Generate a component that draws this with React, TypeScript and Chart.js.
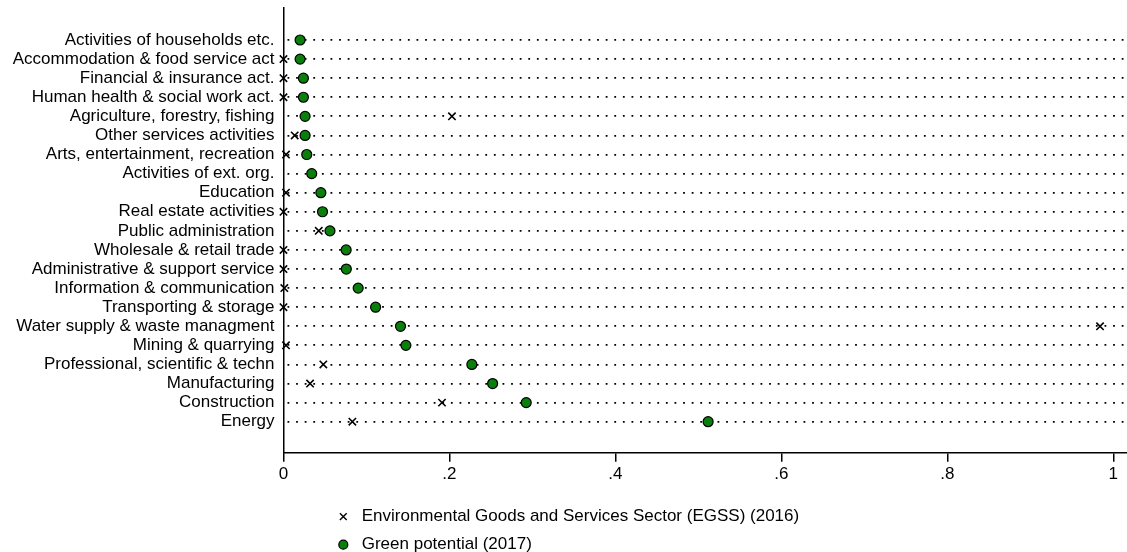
import React, { useEffect, useRef } from "react";
import { Chart, registerables } from "chart.js";

Chart.register(...registerables);

const categories: string[] = [
  "Activities of households etc.",
  "Accommodation & food service act",
  "Financial & insurance act.",
  "Human health & social work act.",
  "Agriculture, forestry, fishing",
  "Other services activities",
  "Arts, entertainment, recreation",
  "Activities of ext. org.",
  "Education",
  "Real estate activities",
  "Public administration",
  "Wholesale & retail trade",
  "Administrative & support service",
  "Information & communication",
  "Transporting & storage",
  "Water supply & waste managment",
  "Mining & quarrying",
  "Professional, scientific & techn",
  "Manufacturing",
  "Construction",
  "Energy",
];

const egss2016: (number | null)[] = [
  null, 0.0, 0.0, 0.0, 0.203, 0.0135, 0.003, null, 0.003, 0.0, 0.0425,
  0.0, 0.0, 0.001, 0.0, 0.984, 0.003, 0.048, 0.032, 0.191, 0.083,
];

const greenPotential2017: number[] = [
  0.02, 0.02, 0.024, 0.024, 0.026, 0.026, 0.028, 0.034, 0.045, 0.047, 0.056,
  0.0755, 0.0757, 0.09, 0.111, 0.141, 0.1475, 0.227, 0.252, 0.2925, 0.5117,
];

const xTickValues: number[] = [0, 0.2, 0.4, 0.6, 0.8, 1];
const xTickLabels: string[] = ["0", ".2", ".4", ".6", ".8", "1"];

const seriesLabels: string[] = [
  "Environmental Goods and Services Sector (EGSS) (2016)",
  "Green potential (2017)",
];

const FONT = "'Liberation Sans', Arial, Helvetica, sans-serif";
const GREEN = "#0b7f0b";

const legendPlugin = {
  id: "stackedLegend",
  afterDraw(chart: any) {
    const ctx = chart.ctx;
    const area = chart.chartArea;
    const mx = 343.3;
    const tx = 361.7;
    chart.data.datasets.forEach((ds: any, i: number) => {
      const y = area.bottom + 64 + i * 28;
      ctx.save();
      if (ds.pointStyle === "crossRot") {
        const r = 3.4;
        ctx.strokeStyle = "#000";
        ctx.lineWidth = 1.4;
        ctx.beginPath();
        ctx.moveTo(mx - r, y - r);
        ctx.lineTo(mx + r, y + r);
        ctx.moveTo(mx - r, y + r);
        ctx.lineTo(mx + r, y - r);
        ctx.stroke();
      } else {
        ctx.fillStyle = ds.backgroundColor;
        ctx.strokeStyle = "#000";
        ctx.lineWidth = 1.2;
        ctx.beginPath();
        ctx.arc(mx, y, 4.5, 0, Math.PI * 2);
        ctx.fill();
        ctx.stroke();
      }
      ctx.fillStyle = "#000";
      ctx.font = `17px ${FONT}`;
      ctx.textAlign = "left";
      ctx.textBaseline = "middle";
      ctx.fillText(ds.label, tx, y);
      ctx.restore();
    });
  },
};

export default function App() {
  const ref = useRef<HTMLCanvasElement | null>(null);

  useEffect(() => {
    if (!ref.current) return;
    const egssPoints = egss2016
      .map((v, i) => ({ x: v, y: i }))
      .filter((p) => p.x !== null) as { x: number; y: number }[];
    const chart = new Chart(ref.current, {
      type: "scatter",
      data: {
        datasets: [
          {
            label: seriesLabels[0],
            data: egssPoints,
            pointStyle: "crossRot",
            pointRadius: 5.2,
            pointBorderWidth: 1.6,
            pointBorderColor: "#000",
            pointBackgroundColor: "#000",
            borderColor: "#000",
            backgroundColor: "#000",
            showLine: false,
            clip: false as any,
            order: 1,
          },
          {
            label: seriesLabels[1],
            data: greenPotential2017.map((v, i) => ({ x: v, y: i })),
            pointStyle: "circle",
            pointRadius: 5,
            pointBorderWidth: 1.2,
            pointBorderColor: "#000",
            pointBackgroundColor: GREEN,
            borderColor: "#000",
            backgroundColor: GREEN,
            showLine: false,
            clip: false as any,
            order: 0,
          },
        ],
      },
      options: {
        animation: false,
        responsive: false,
        devicePixelRatio: 1,
        layout: { autoPadding: false, padding: { top: 8, right: 0, bottom: 0, left: 0 } },
        plugins: {
          legend: { display: false },
          tooltip: { enabled: false },
        },
        scales: {
          x: {
            type: "linear",
            min: 0,
            max: 1.0165,
            afterFit: (s: any) => {
              s.height = 99.3;
              s.paddingLeft = 0;
              s.paddingRight = 0;
            },
            afterBuildTicks: (s: any) => {
              s.ticks = xTickValues.map((v) => ({ value: v }));
            },
            ticks: {
              color: "#000",
              padding: 2,
              font: { family: FONT, size: 17 },
              callback: (v: any) => {
                const idx = xTickValues.findIndex((t) => Math.abs(t - v) < 1e-9);
                return idx >= 0 ? xTickLabels[idx] : "";
              },
            },
            grid: {
              drawOnChartArea: false,
              drawTicks: true,
              tickLength: 9,
              color: "#000",
              lineWidth: 1.5,
            },
            border: { display: true, color: "#000", width: 1.5 },
          },
          y: {
            type: "linear",
            reverse: true,
            min: -1.677,
            max: 21.624,
            afterFit: (s: any) => {
              s.width = 283.5;
              s.paddingTop = 0;
              s.paddingBottom = 0;
            },
            afterBuildTicks: (s: any) => {
              s.ticks = categories.map((_, i) => ({ value: i }));
            },
            ticks: {
              color: "#000",
              padding: 9,
              autoSkip: false,
              font: { family: FONT, size: 17 },
              callback: (v: any) => categories[Math.round(v)] ?? "",
            },
            grid: {
              drawTicks: false,
              color: "#000",
              lineWidth: 1.8,
            },
            border: {
              display: true,
              color: "#000",
              width: 1.5,
              dash: [1.8, 6.8],
              dashOffset: -3,
            },
          },
        },
      },
      plugins: [legendPlugin],
    });
    return () => chart.destroy();
  }, []);

  return (
    <div style={{ position: "fixed", left: 0, top: 0, width: 1127, height: 552, background: "#fff" }}>
      <canvas ref={ref} width={1127} height={552} style={{ display: "block" }} />
    </div>
  );
}
